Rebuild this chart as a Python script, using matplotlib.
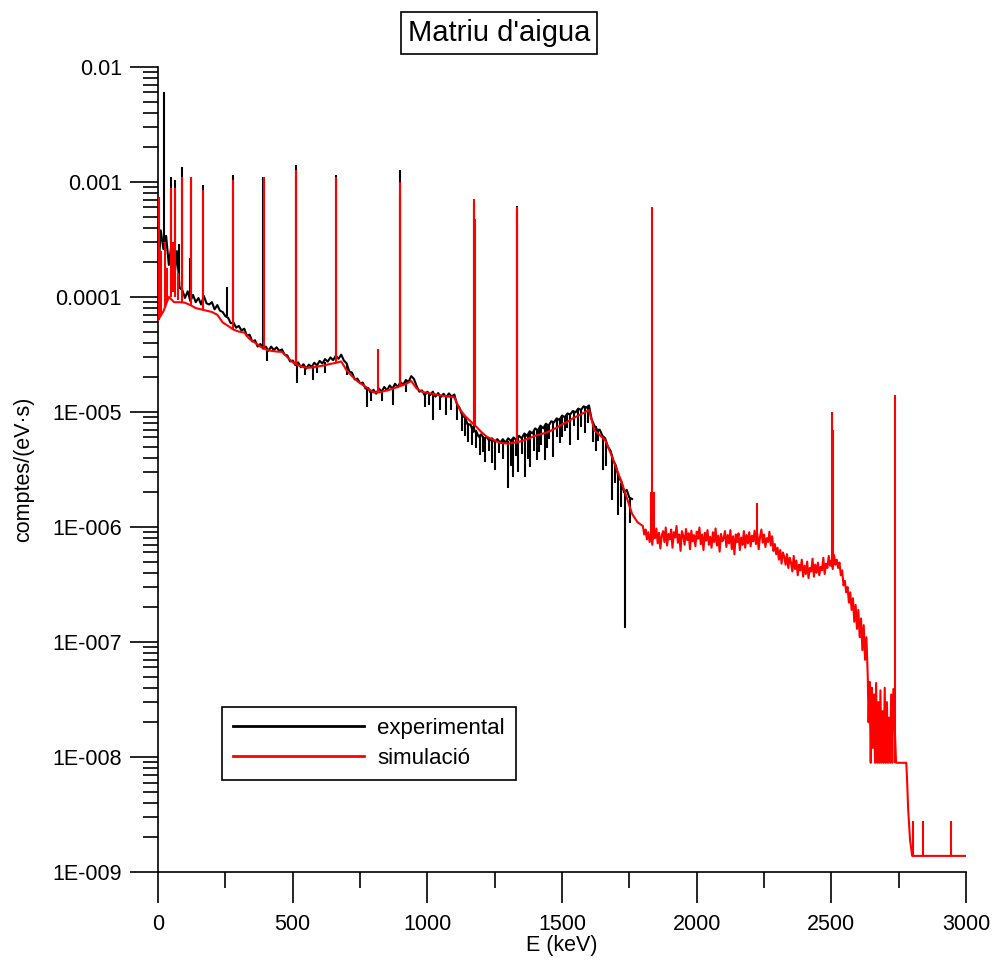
import numpy as np
import matplotlib
matplotlib.use("Agg")
import matplotlib.pyplot as plt
from matplotlib.ticker import MultipleLocator, LogLocator, NullFormatter

plt.rcParams['font.family'] = ['Liberation Sans', 'DejaVu Sans']

# all counts below are in units of 1e-6 comptes/(eV·s)
UNIT = 1e-6

# --- experimental spectrum (10 keV bins, 0-1760 keV) ---
exp_E = np.arange(0, 1770, 10)
exp_cps = [
    150, 380, 260, 340, 190, 290, 140, 250, 120, 115,
    98, 112, 92, 104, 90, 98, 86, 102, 88, 86,
    90, 78, 85, 76, 74, 68, 66, 59, 60, 54,
    56, 51, 53, 46, 47, 41, 42, 37, 39, 35.5,
    37, 34, 37, 34.5, 36.5, 34, 35, 31.5, 31, 27.5,
    28, 25.5, 27, 24.5, 26, 23.8, 25.8, 24.6, 26.8, 25.4,
    27.8, 26.4, 28.8, 27.4, 29.8, 28.2, 30.8, 29, 31.5, 28,
    26.5, 22.5, 22, 19.2, 19.5, 17.8, 18, 16, 16.2, 14.6,
    15.6, 14.4, 16, 15, 16.5, 15.4, 17, 15.9, 17.6, 16.4,
    18.2, 17.2, 19, 18.2, 20.5, 19.4, 16.8, 15, 15.4, 14,
    15, 14, 15, 13.6, 14.6, 13.5, 14.4, 13.4, 14.5, 13.6,
    14.2, 11.6, 10.8, 9.2, 9.0, 7.7, 7.8, 6.7, 6.9, 6.1,
    6.4, 5.8, 6.1, 5.6, 5.9, 5.5, 5.8, 5.4, 5.8, 5.4,
    5.9, 5.6, 6.0, 5.7, 6.2, 5.9, 6.5, 6.2, 6.8, 6.5,
    7.2, 6.9, 7.6, 7.2, 7.9, 7.6, 8.3, 8.1, 8.8, 8.5,
    9.3, 9.0, 9.7, 9.5, 10.2, 9.9, 10.7, 10.4, 11.2, 10.9,
    11.4, 8.6, 7.6, 7.0, 7.0, 6.2, 5.9, 5.0, 4.6, 3.8,
    3.4, 2.7, 2.5, 2.0, 2.1, 1.8, 1.75,
]

# photopeaks in the experimental spectrum
exp_peak_E = [23, 48, 62, 78, 89, 120, 122, 168, 255, 280, 390, 512, 662, 898, 1173, 1332]
exp_peak_base = [300, 280, 200, 130, 130, 100, 100, 95, 68, 58, 37, 26.5, 30, 17.3, 7.0, 5.8]
exp_peak_top = [6000, 1100, 1050, 290, 1350, 220, 1100, 950, 122, 1150, 1100, 1400, 1150, 1270, 650, 620]

# downward fluctuations of the experimental spectrum
exp_dip_E = [404, 515, 545, 577, 590, 620, 700, 775, 792, 830,
             874, 920, 990, 1005, 1021, 1045, 1070, 1088, 1110, 1130,
             1140, 1150, 1165, 1180, 1195, 1205, 1214, 1230, 1240, 1251,
             1265, 1280, 1298, 1310, 1319, 1328, 1337, 1350, 1362, 1372,
             1381, 1395, 1408, 1415, 1422, 1436, 1445, 1452, 1467, 1480,
             1492, 1500, 1510, 1520, 1529, 1545, 1560, 1570, 1585, 1597,
             1616, 1625, 1635, 1653, 1665, 1684, 1695, 1709, 1720, 1734,
             1752]
exp_dip_top = [35, 26, 25, 25, 25.5, 27, 26, 16, 15, 15.3,
               16.5, 18.5, 14.5, 14.5, 14.5, 14, 13.5, 14, 11.8, 9.5,
               9, 8, 7.5, 6.8, 6.3, 6.2, 6.0, 5.8, 5.8, 5.7,
               5.6, 5.6, 5.6, 5.7, 5.9, 5.8, 6.0, 6.1, 6.3, 6.4,
               6.6, 6.8, 7.0, 7.2, 7.4, 7.5, 7.7, 7.9, 8.2, 8.6,
               8.9, 9.1, 9.2, 9.5, 9.7, 10.0, 10.5, 10.6, 11.0, 11.2,
               8.0, 7.6, 7.0, 6.2, 5.4, 4.2, 3.6, 3.0, 2.4, 2.0,
               1.8]
exp_dip_bottom = [28, 17.9, 21, 19, 22, 22, 21, 11, 12.5, 12.5,
                  11.5, 15, 11, 11.5, 8.5, 10.5, 9.5, 10.5, 8.5, 6.8,
                  6.2, 5.5, 5.2, 4.9, 4.2, 4.5, 3.7, 4.6, 3.6, 3.1,
                  4.4, 3.9, 2.2, 3.4, 2.7, 4.1, 3.0, 4.3, 2.7, 3.9,
                  3.3, 4.6, 3.8, 4.5, 5.2, 3.8, 4.9, 5.8, 4.05, 6.0,
                  5.4, 6.0, 6.8, 7.2, 5.2, 7.5, 5.7, 7.4, 6.6, 8.0,
                  5.5, 4.6, 5.6, 3.1, 3.4, 1.72, 2.4, 1.27, 1.5, 0.132,
                  1.08]

# --- simulated spectrum ---
sim_E_low = np.arange(0, 1800, 20)
sim_low = [
    63, 75, 100, 90, 90, 89, 85, 80, 78, 76,
    74, 70, 60, 56, 52, 50, 49, 43, 40, 37,
    35, 34, 33.5, 33.3, 30, 27, 25.5, 24.5, 24.2, 24.5,
    25, 25.5, 26.2, 26.7, 27.5, 23, 20.5, 18.5, 17.2, 16,
    14.8, 14.8, 15.2, 15.6, 16.2, 16.8, 17.5, 18.6, 16, 15,
    14.6, 14.4, 14, 13.8, 13.6, 13.4, 10.6, 9.2, 8.3, 7.5,
    6.7, 6.1, 5.8, 5.5, 5.35, 5.3, 5.4, 5.5, 5.7, 5.95,
    6.2, 6.4, 6.6, 6.9, 7.3, 7.8, 8.2, 8.8, 9.3, 9.8,
    10.4, 6.9, 6.3, 5.7, 4.4, 3.3, 2.5, 1.8, 1.3, 1.1,
]
# 5 keV bins, 1800-2635 keV
sim_E_mid = np.arange(1800, 2640, 5)
sim_mid = [
    1.02, 0.86, 0.95, 0.78, 0.90, 0.74, 0.88, 0.70, 0.93, 0.80,
    0.97, 0.72, 0.89, 0.65, 0.84, 0.92, 0.74, 0.99, 0.69, 0.87,
    0.78, 0.95, 0.66, 0.90, 0.81, 1.02, 0.73, 0.86, 0.62, 0.92,
    0.84, 0.70, 0.96, 0.77, 0.88, 0.64, 0.93, 0.75, 0.85, 0.68,
    0.91, 0.79, 0.99, 0.71, 0.86, 0.63, 0.89, 0.76, 0.94, 0.70,
    0.82, 0.66, 0.90, 0.74, 0.97, 0.69, 0.84, 0.61, 0.87, 0.75,
    0.80, 0.92, 0.67, 0.85, 0.72, 0.94, 0.64, 0.83, 0.58, 0.86,
    0.74, 0.88, 0.63, 0.81, 0.70, 0.92, 0.66, 0.85, 0.72, 0.90,
    0.68, 0.84, 0.75, 0.93, 0.71, 0.87, 0.64, 0.82, 0.95, 0.73,
    0.86, 0.67, 0.80, 0.74, 0.91, 0.69, 0.83, 0.62, 0.71, 0.58,
    0.66, 0.52, 0.63, 0.48, 0.60, 0.55, 0.47, 0.58, 0.44, 0.54,
    0.49, 0.41, 0.56, 0.43, 0.51, 0.38, 0.47, 0.42, 0.52, 0.37,
    0.46, 0.39, 0.50, 0.36, 0.44, 0.41, 0.53, 0.37, 0.47, 0.40,
    0.49, 0.38, 0.45, 0.42, 0.54, 0.39, 0.48, 0.44, 0.56, 0.46,
    0.51, 0.43, 0.57, 0.47, 0.52, 0.44, 0.49, 0.38, 0.42, 0.31,
    0.34, 0.27, 0.30, 0.22, 0.27, 0.19, 0.24, 0.15, 0.21, 0.13,
    0.19, 0.11, 0.16, 0.085, 0.14, 0.07, 0.11, 0.05,
]
# 4 keV bins near the end of the continuum
sim_E_edge = np.arange(2638, 2734, 4)
sim_edge = [
    0.02, 0.045, 0.0089, 0.04, 0.012, 0.035, 0.0089, 0.044, 0.0089, 0.03,
    0.0089, 0.038, 0.0089, 0.025, 0.0089, 0.04, 0.0089, 0.03, 0.0089, 0.022,
    0.0089, 0.035, 0.0089, 0.039,
]
sim_E_tail = [2740, 2778, 2781, 2785, 2792, 2800, 3000]
sim_tail = [0.0089, 0.0089, 0.0063, 0.0035, 0.0019, 0.00138, 0.00138]

# photopeaks in the simulated spectrum
sim_peak_E = [3, 10, 25, 33, 48, 55, 62, 75, 89, 122, 166, 280, 392, 512, 514,
              662, 816, 898, 900, 1173, 1175, 1332, 1334, 1831, 1835, 1840,
              2223, 2503, 2507, 2737, 2803, 2840, 2944]
sim_peak_base = [63, 70, 80, 90, 100, 110, 100, 95, 90, 85, 78, 52, 37, 26, 26,
                 26.7, 14.8, 16.6, 16.6, 7.7, 7.5, 5.4, 5.4, 0.85, 0.85, 0.8,
                 0.75, 0.45, 0.45, 0.0089, 0.00138, 0.00138, 0.00138]
sim_peak_top = [740, 250, 300, 180, 887, 300, 887, 160, 1100, 1100, 850, 1050, 1100, 1270, 1100,
                1100, 35, 1000, 750, 710, 480, 600, 550, 2.0, 600, 2.0,
                1.6, 9.9, 7.0, 14, 0.0028, 0.0028, 0.0028]

sim_E = np.concatenate([sim_E_low, sim_E_mid, sim_E_edge, sim_E_tail])
sim_cps = np.concatenate([sim_low, sim_mid, sim_edge, sim_tail]) * UNIT
exp_y = np.array(exp_cps) * UNIT

y_ticks = [1e-2, 1e-3, 1e-4, 1e-5, 1e-6, 1e-7, 1e-8, 1e-9]
y_labels = ['0.01', '0.001', '0.0001', '1E-005', '1E-006', '1E-007', '1E-008', '1E-009']

fig = plt.figure(figsize=(9.94, 9.63), dpi=100)
ax = fig.add_axes([0.159, 0.0945, 0.8129, 0.836])

lw = 1.5
l_exp, = ax.plot(exp_E, exp_y, color='black', lw=lw, label='experimental', zorder=2)
ax.vlines(exp_peak_E, np.array(exp_peak_base) * UNIT, np.array(exp_peak_top) * UNIT,
          color='black', lw=lw, zorder=2)
ax.vlines(exp_dip_E, np.array(exp_dip_bottom) * UNIT, np.array(exp_dip_top) * UNIT,
          color='black', lw=lw, zorder=2)

l_sim, = ax.plot(sim_E, sim_cps, color='red', lw=lw, label='simulació', zorder=3)
ax.vlines(sim_peak_E, np.array(sim_peak_base) * UNIT, np.array(sim_peak_top) * UNIT,
          color='red', lw=lw, zorder=3)

ax.set_yscale('log')
ax.set_xlim(0, 3000)
ax.set_ylim(1e-9, 1e-2)
ax.set_yticks(y_ticks, y_labels)
ax.yaxis.set_minor_locator(LogLocator(base=10, subs=np.arange(2, 10)))
ax.yaxis.set_minor_formatter(NullFormatter())
ax.xaxis.set_major_locator(MultipleLocator(500))
ax.xaxis.set_minor_locator(MultipleLocator(250))

for s in ['top', 'right']:
    ax.spines[s].set_visible(False)
for s in ['left', 'bottom']:
    ax.spines[s].set_linewidth(1.2)

ax.tick_params(axis='y', which='major', length=20, width=1.2, pad=6, labelsize=15.5)
ax.tick_params(axis='y', which='minor', length=11, width=1.2)
ax.tick_params(axis='x', which='major', length=22, width=1.2, pad=8, labelsize=15.5)
ax.tick_params(axis='x', which='minor', length=11.5, width=1.2)

ax.set_xlabel('E (keV)', fontsize=15.5)
ax.xaxis.set_label_coords(0.5, -0.078)
ax.set_ylabel('comptes/(eV·s)', fontsize=15.5)
ax.yaxis.set_label_coords(-0.153, 0.5)

fig.text(499 / 994, 1 - 33 / 963, "Matriu d'aigua", ha='center', va='center', fontsize=21,
         bbox=dict(boxstyle='square,pad=0.25', fc='white', ec='black', lw=1.2))

leg = ax.legend(handles=[l_exp, l_sim], loc='lower left', bbox_to_anchor=(0.079, 0.114),
                fontsize=16, handlelength=5.9, handletextpad=0.6, borderpad=0.5,
                labelspacing=0.4, fancybox=False, framealpha=1, edgecolor='black',
                borderaxespad=0)
leg.get_frame().set_linewidth(1.2)
for h in leg.legend_handles:
    h.set_linewidth(2.0)

fig.savefig('out.png', dpi=100)
